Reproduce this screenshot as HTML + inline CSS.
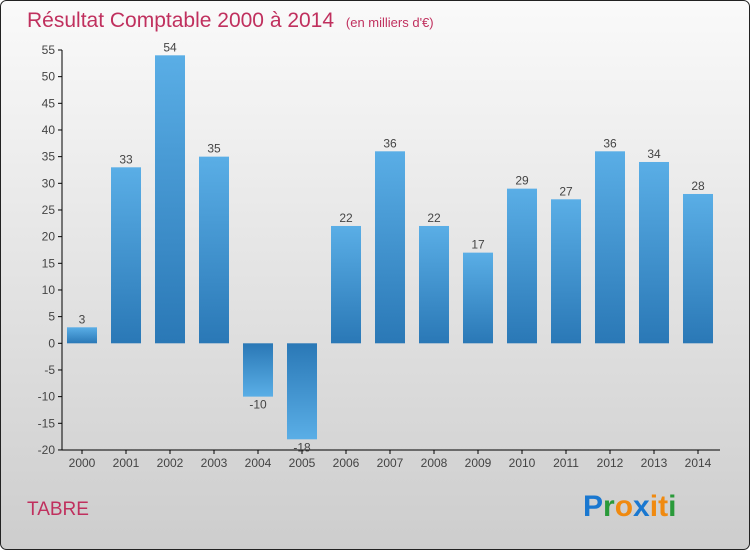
<!DOCTYPE html>
<html><head><meta charset="utf-8"><style>
html,body{margin:0;padding:0}
body{width:750px;height:550px;overflow:hidden;font-family:"Liberation Sans",sans-serif}
</style></head><body>
<svg id="chart" width="750" height="550" xmlns="http://www.w3.org/2000/svg">
<defs>
<linearGradient id="bg" x1="0" y1="0" x2="0" y2="1"><stop offset="0" stop-color="#fafafa"/><stop offset="1" stop-color="#cdcdcd"/></linearGradient>
<linearGradient id="gp" x1="0" y1="0" x2="0" y2="1"><stop offset="0" stop-color="#5aaee6"/><stop offset="1" stop-color="#2a78b6"/></linearGradient>
<linearGradient id="gn" x1="0" y1="0" x2="0" y2="1"><stop offset="0" stop-color="#2a78b6"/><stop offset="1" stop-color="#5aaee6"/></linearGradient>
</defs>
<rect x="0.5" y="0.5" width="749" height="549" rx="6" fill="url(#bg)" stroke="#222"/>
<text x="27" y="27" font-size="21" fill="#c0305e">Résultat Comptable 2000 à 2014 <tspan font-size="13" dx="6">(en milliers d'€)</tspan></text>
<g id="axes"></g>
<g id="bars"></g>
<text x="27" y="515" font-size="19" fill="#c0305e">TABRE</text>
<g font-size="30" font-weight="bold" font-family="'Liberation Sans',sans-serif">
<text x="583" y="516"><tspan fill="#1a78d0">P</tspan><tspan fill="#2a9a3a">r</tspan><tspan fill="#f08a10">o</tspan><tspan fill="#1a78d0">x</tspan><tspan fill="#f08a10">i</tspan><tspan fill="#f08a10">t</tspan><tspan fill="#2a9a3a">i</tspan></text>
</g>
</svg>
<script>
const years=["2000","2001","2002","2003","2004","2005","2006","2007","2008","2009","2010","2011","2012","2013","2014"];
const values=[3,33,54,35,-10,-18,22,36,22,17,29,27,36,34,28];
const yTicks=[-20,-15,-10,-5,0,5,10,15,20,25,30,35,40,45,50,55];
const NS="http://www.w3.org/2000/svg";
const y=v=>343.3-v*5.333;
const x=i=>82+i*44;
const ax=document.getElementById('axes'),bg=document.getElementById('bars');
function mk(tag,attrs,parent){const e=document.createElementNS(NS,tag);for(const k in attrs)e.setAttribute(k,attrs[k]);parent.appendChild(e);return e;}
let l=mk('line',{x1:62,y1:y(55),x2:62,y2:y(-20),stroke:'#000'},ax);


l=mk('line',{x1:62,y1:y(-20),x2:720,y2:y(-20),stroke:'#000'},ax);


yTicks.forEach(t=>{
  mk('line',{x1:58,y1:y(t),x2:62,y2:y(t),stroke:'#000'},ax);
  const tx=mk('text',{x:55,y:y(t)+4,'text-anchor':'end','font-size':12,fill:'#444'},ax);
  tx.textContent=t;
  
  
});
years.forEach((yr,i)=>{
  mk('line',{x1:x(i),y1:y(-20),x2:x(i),y2:y(-20)+4,stroke:'#000'},ax);
  const tx=mk('text',{x:x(i),y:y(-20)+17,'text-anchor':'middle','font-size':12,fill:'#444'},ax);
  tx.textContent=yr;
  
  
  const v=values[i];
  const top=Math.min(y(v),y(0)),h=Math.abs(y(v)-y(0));
  const r=mk('rect',{x:x(i)-15,y:top,width:30,height:h,fill:v>=0?'url(#gp)':'url(#gn)'},bg);
  
  
  const lb=mk('text',{x:x(i),y:v>=0?y(v)-4:y(v)+12,'text-anchor':'middle','font-size':12,fill:'#444'},bg);
  lb.textContent=v;
  
  
});
</script>
</body></html>
